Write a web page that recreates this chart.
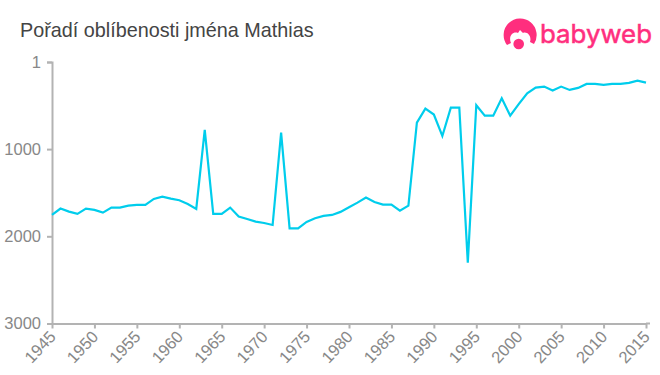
<!DOCTYPE html>
<html>
<head>
<meta charset="utf-8">
<script src="https://d3js.org/d3.v7.min.js"></script>
<style>
  html, body { margin: 0; padding: 0; background: #fff; }
  svg { display: block; }
  text { font-family: "Liberation Sans", Arial, sans-serif; }
</style>
</head>
<body>
<div id="chart"></div>
<script>
const titleText = "Pořadí oblíbenosti jména Mathias";
const logoText = "babyweb";
const years = d3.range(1945, 2016);
const ranks = [
  1755, 1682, 1717, 1743, 1682, 1697, 1728, 1671, 1671, 1648,
  1640, 1640, 1571, 1545, 1568, 1587, 1629, 1686, 780, 1743,
  1743, 1671, 1774, 1801, 1832, 1847, 1870, 811, 1908, 1908,
  1835, 1793, 1766, 1755, 1720, 1667, 1614, 1556, 1606, 1637,
  1637, 1705, 1648, 696, 535, 604, 849, 524, 524, 2302,
  497, 616, 616, 417, 616, 485, 359, 295, 283, 329,
  283, 321, 298, 252, 252, 264, 252, 252, 241, 214,
  237
];
const yTicks = [1, 1000, 2000, 3000];
const xTicks = d3.range(1945, 2016, 5);

const width = 660;
const height = 375;
const margin = { top: 62, right: 14, bottom: 51.5, left: 52 };

const svg = d3
  .select("#chart")
  .append("svg")
  .attr("width", width)
  .attr("height", height);

const xScale = d3
  .scaleLinear()
  .domain([1945, 2015])
  .range([margin.left, width - margin.right]);

const yScale = d3
  .scaleLinear()
  .domain([1, 3000])
  .range([margin.top, height - margin.bottom]);

svg
  .append("text")
  .attr("x", 20)
  .attr("y", 37)
  .attr("font-size", 19.8)
  .attr("fill", "#444")
  .text(titleText);

const yAxis = svg
  .append("g")
  .attr("transform", `translate(${margin.left}, 0)`)
  .call(
    d3
      .axisLeft(yScale)
      .tickValues(yTicks)
      .tickFormat(d3.format("d"))
      .tickSize(5)
      .tickPadding(6)
  );

const xAxis = svg
  .append("g")
  .attr("transform", `translate(0, ${height - margin.bottom})`)
  .call(
    d3
      .axisBottom(xScale)
      .tickValues(xTicks)
      .tickFormat(d3.format("d"))
      .tickSize(5)
      .tickSizeOuter(0)
  );

// axis line runs a little past the last tick
xAxis
  .append("line")
  .attr("x1", xScale(2015))
  .attr("x2", xScale(2015) + 4)
  .attr("stroke", "#b3b3b3")
  .attr("stroke-width", 2);

xAxis
  .selectAll(".tick text")
  .attr("text-anchor", "end")
  .attr("x", 0)
  .attr("y", 0)
  .attr("dy", "0.35em")
  .attr("transform", "translate(0, 10) rotate(-47)");

[yAxis, xAxis].forEach((axis) => {
  axis.selectAll(".domain, .tick line").attr("stroke", "#b3b3b3").attr("stroke-width", 2);
  axis.selectAll(".tick text").attr("font-size", 16.5).attr("fill", "#888");
});

const line = d3
  .line()
  .x((d, i) => xScale(years[i]))
  .y((d) => yScale(d));

svg
  .append("path")
  .datum(ranks)
  .attr("d", line)
  .attr("fill", "none")
  .attr("stroke", "#00cdec")
  .attr("stroke-width", 2.2);

// logo
const logo = svg.append("g").attr("fill", "#ff2e7e");
logo
  .append("path")
  .attr("d", "M507 45 A16.5 16.5 0 1 1 534 44 L530 42 C532 36 527 31 523 33 L520 30 L518 33 C513 31 508 36 511 43 Z");
logo.append("circle").attr("cx", 518.7).attr("cy", 44).attr("r", 5.3);
logo
  .append("text")
  .attr("x", 540)
  .attr("y", 43)
  .attr("font-size", 25)
  .attr("stroke", "#ff2e7e")
  .attr("stroke-width", 0.5)
  .style("font-family", "Inter, sans-serif")
  .attr("textLength", 112)
  .attr("lengthAdjust", "spacingAndGlyphs")
  .text(logoText);
</script>
</body>
</html>
